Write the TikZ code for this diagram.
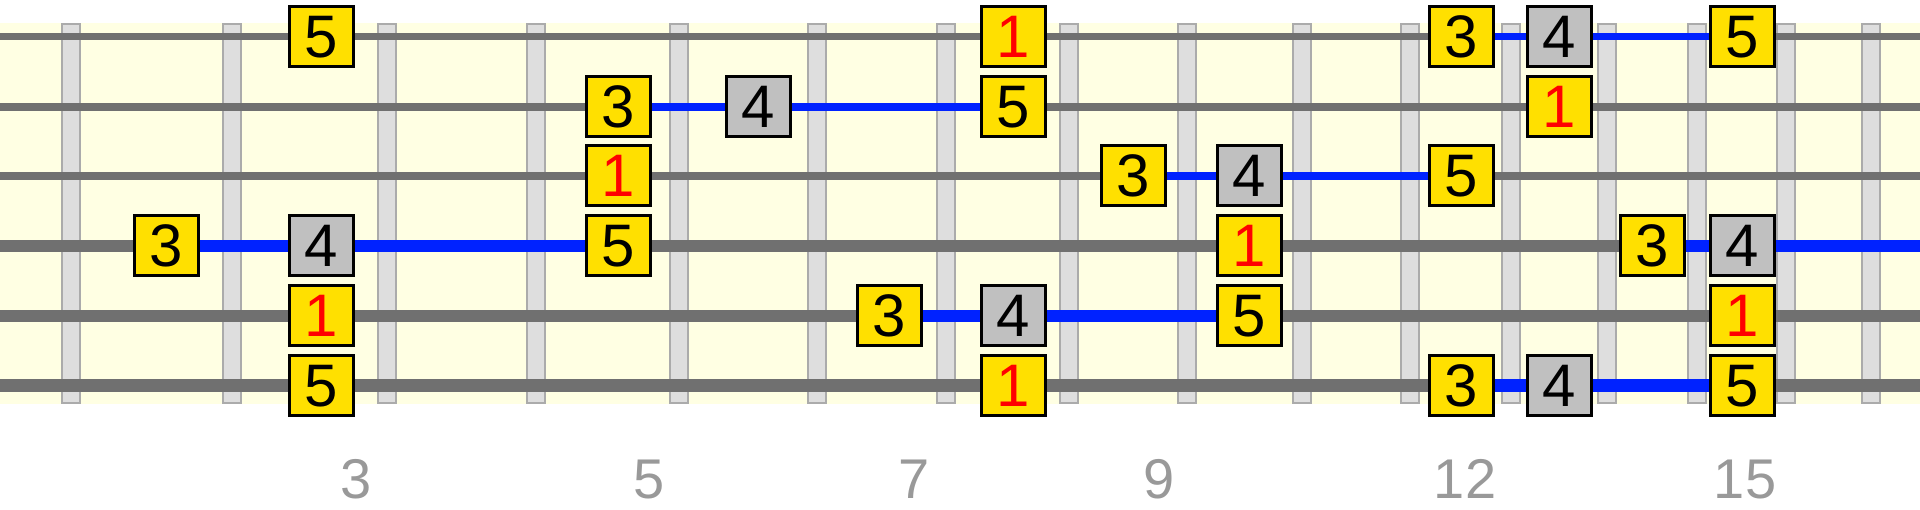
\documentclass[tikz,border=0pt]{standalone}
\usepackage{fontspec}
\setmainfont{Liberation Sans}

\definecolor{board}{HTML}{FFFFE3}
\definecolor{fretfill}{HTML}{DEDEDE}
\definecolor{fretedge}{HTML}{ABABAB}
\definecolor{stringgray}{HTML}{707070}
\definecolor{scaleblue}{HTML}{0022FF}
\definecolor{noteyellow}{HTML}{FFE000}
\definecolor{notegray}{HTML}{C0C0C0}
\definecolor{labelgray}{HTML}{999999}

\begin{document}
\begin{tikzpicture}[x=1pt,y=-1pt]
        \tikzstyle{note}=[draw=black, line width=3pt, fill=noteyellow, minimum width=64pt, minimum height=60pt, inner sep=0pt, font=\fontsize{60}{64}\selectfont]
        \tikzstyle{fourth}=[note, fill=notegray]
        \tikzstyle{root}=[note, text=red]
        \tikzstyle{fret}=[draw=fretedge, fill=fretfill, line width=2pt]
        \tikzstyle{run}=[draw=scaleblue]
        \tikzstyle{fretnum}=[anchor=base, inner sep=0pt, text=labelgray, font=\fontsize{56}{60}\selectfont]

        \useasboundingbox (0,0) rectangle (1920,510);

        % Draw board
        \fill[board] (0,23) rectangle (1920,404);

        % Add frets
        \foreach \x in {71,232,387,536,679,817,946,1069,1187,1302,1410,1511,1607,1697,1786,1871} {
            \draw[fret] (\x-9,24) rectangle (\x+9,403);
        }

        % Add strings, top to bottom
        \foreach \y/\w in {37/7,107/7.5,176/8,246/12,316/12,386/13} {
            \draw[stringgray, line width=\w pt] (0,\y) -- (1920,\y);
        }

        % Add fret numbers
        \foreach \x/\n in {356/3,649/5,914/7,1159/9,1465/12,1745/15} {
            \node[fretnum] (num\n) at (\x,498) {\n};
        }

        % Notes on string 1
        \node[note] (s1c2) at (321,37) {5};
        \node[root] (s1c6) at (1013,37) {1};
        \node[note] (s1c9) at (1461,37) {3};
        \node[fourth] (s1c10) at (1559,37) {4};
        \node[note] (s1c12) at (1742,37) {5};

        % Notes on string 2
        \node[note] (s2c3) at (618,107) {3};
        \node[fourth] (s2c4) at (758,107) {4};
        \node[note] (s2c6) at (1013,107) {5};
        \node[root] (s2c10) at (1559,107) {1};

        % Notes on string 3
        \node[root] (s3c3) at (618,176) {1};
        \node[note] (s3c7) at (1133,176) {3};
        \node[fourth] (s3c8) at (1249,176) {4};
        \node[note] (s3c9) at (1461,176) {5};

        % Notes on string 4
        \node[note] (s4c1) at (166,246) {3};
        \node[fourth] (s4c2) at (321,246) {4};
        \node[note] (s4c3) at (618,246) {5};
        \node[root] (s4c8) at (1249,246) {1};
        \node[note] (s4c11) at (1652,246) {3};
        \node[fourth] (s4c12) at (1742,246) {4};
        \coordinate (s4end) at (1920,246);

        % Notes on string 5
        \node[root] (s5c2) at (321,316) {1};
        \node[note] (s5c5) at (889,316) {3};
        \node[fourth] (s5c6) at (1013,316) {4};
        \node[note] (s5c8) at (1249,316) {5};
        \node[root] (s5c12) at (1742,316) {1};

        % Notes on string 6
        \node[note] (s6c2) at (321,386) {5};
        \node[root] (s6c6) at (1013,386) {1};
        \node[note] (s6c9) at (1461,386) {3};
        \node[fourth] (s6c10) at (1559,386) {4};
        \node[note] (s6c12) at (1742,386) {5};

        % Connect 3-4-5 runs
        \draw[run, line width=7pt] (s1c9) -- (s1c10) -- (s1c12);
        \draw[run, line width=7.5pt] (s2c3) -- (s2c4) -- (s2c6);
        \draw[run, line width=8pt] (s3c7) -- (s3c8) -- (s3c9);
        \draw[run, line width=12pt] (s4c1) -- (s4c2) -- (s4c3);
        \draw[run, line width=12pt] (s4c11) -- (s4c12) -- (s4end);
        \draw[run, line width=12pt] (s5c5) -- (s5c6) -- (s5c8);
        \draw[run, line width=13pt] (s6c9) -- (s6c10) -- (s6c12);
    \end{tikzpicture}
\end{document}
